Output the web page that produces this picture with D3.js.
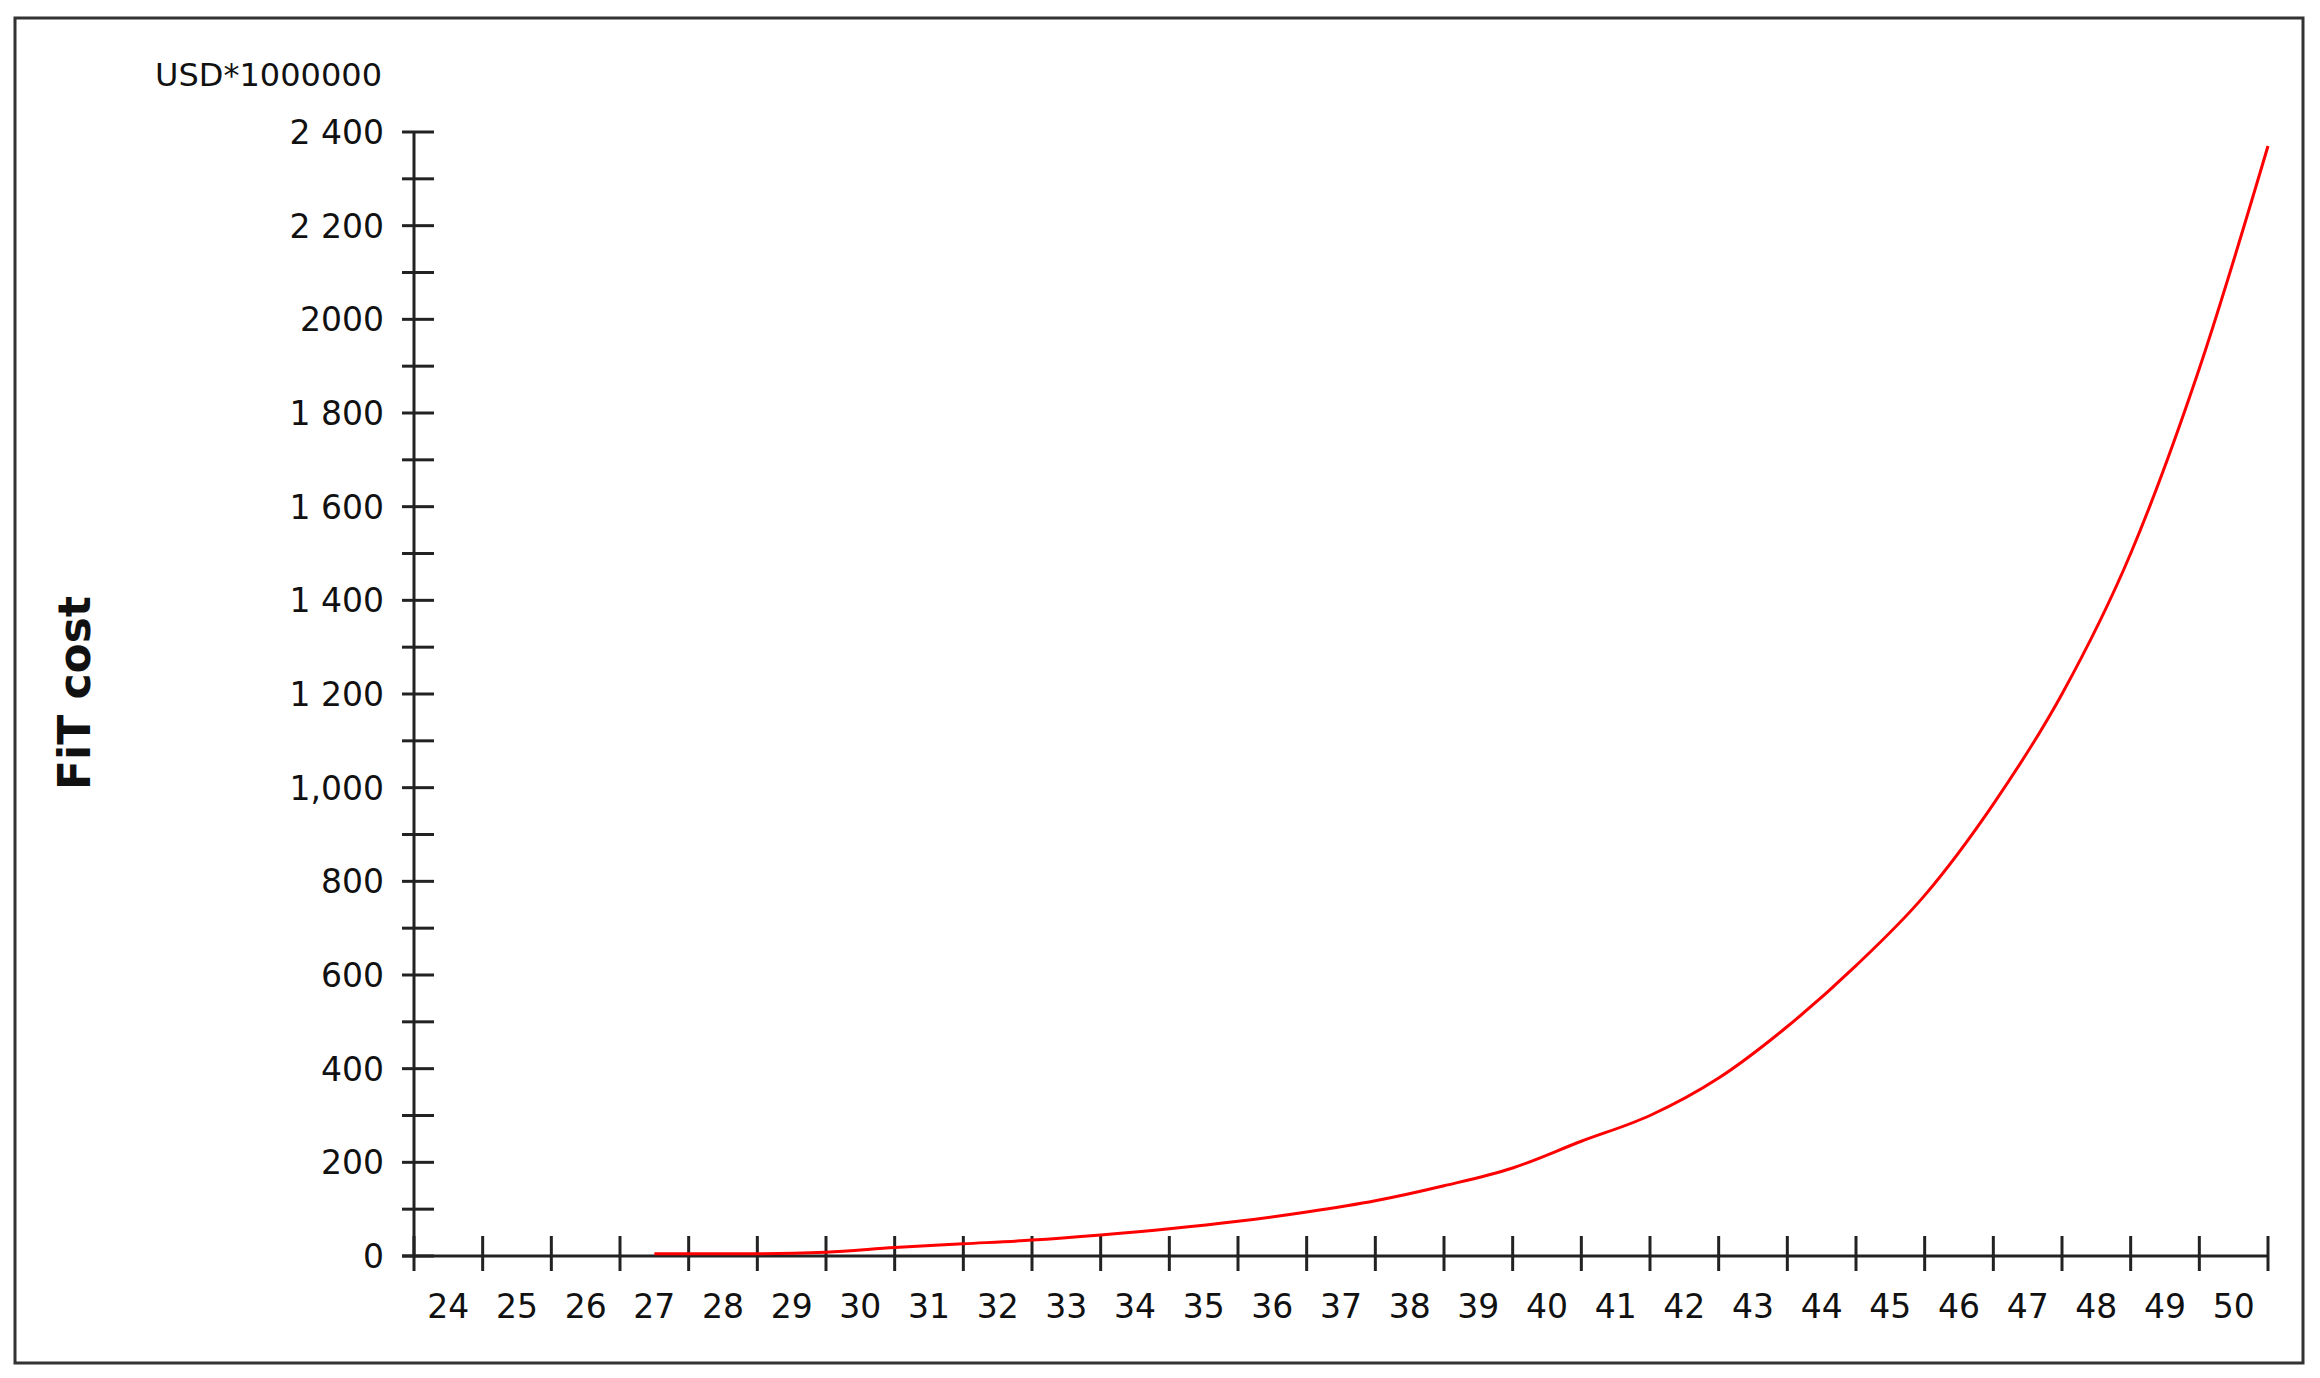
<!DOCTYPE html>
<html><head><meta charset="utf-8">
<script src="https://cdn.jsdelivr.net/npm/d3@7"></script>
<style>body{margin:0;background:#fff}text{font-family:"DejaVu Sans","Liberation Sans",Arial,sans-serif}</style>
</head><body>
<svg id="chart" width="2320" height="1378"></svg>
<script>
const years = d3.range(24, 51);
const yTickValues = [0,200,400,600,800,1000,1200,1400,1600,1800,2000,2200,2400];
const yTickLabels = ["0","200","400","600","800","1,000","1 200","1 400","1 600","1 800","2000","2 200","2 400"];
const curveX = [27.5,28,29,30,31,32,33,34,35,36,37,38,39,40,41,42,43,44,45,46,47,48,49,50,51];
const curveY = [5,5,5,8,18,26,34,45,58,74,94,118,150,188,245,300,380,490,620,770,965,1200,1500,1895,2370];

const svg = d3.select("#chart");
svg.append("rect").attr("x",15).attr("y",18).attr("width",2288).attr("height",1345)
  .attr("fill","none").attr("stroke","#333").attr("stroke-width",3);

const x = d3.scaleLinear().domain([24,51]).range([414,2268]);
const y = d3.scaleLinear().domain([0,2400]).range([1256,132]);

const g = svg.append("g");
// y axis
g.append("line").attr("x1",x(24)).attr("x2",x(24)).attr("y1",y(2400)).attr("y2",y(0))
  .attr("stroke","#222").attr("stroke-width",3);
g.selectAll(".yt").data(d3.range(0,2401,100)).join("line")
  .attr("x1",x(24)-12).attr("x2",x(24)+20).attr("y1",d=>y(d)).attr("y2",d=>y(d))
  .attr("stroke","#222").attr("stroke-width",3);
g.selectAll(".yl").data(yTickValues).join("text")
  .attr("x",x(24)-30).attr("y",(d)=>y(d)+12).attr("text-anchor","end")
  .attr("font-size",33).attr("fill","#111").text((d,i)=>yTickLabels[i]);
// x axis
g.append("line").attr("x1",x(24)-12).attr("x2",x(51)).attr("y1",y(0)).attr("y2",y(0))
  .attr("stroke","#222").attr("stroke-width",3);
g.selectAll(".xt").data(d3.range(24,52)).join("line")
  .attr("x1",d=>x(d)).attr("x2",d=>x(d)).attr("y1",y(0)-20).attr("y2",y(0)+15)
  .attr("stroke","#222").attr("stroke-width",3);
g.selectAll(".xl").data(years).join("text")
  .attr("x",d=>x(d+0.5)).attr("y",y(0)+62).attr("text-anchor","middle")
  .attr("font-size",33).attr("fill","#111").text(d=>d);

// curve
g.append("path").datum(curveX.map((v,i)=>[v,curveY[i]]))
  .attr("d",d3.line().x(d=>x(d[0])).y(d=>y(d[1])).curve(d3.curveMonotoneX))
  .attr("fill","none").attr("stroke","#f00").attr("stroke-width",3);

svg.append("text").attr("x",382).attr("y",86).attr("text-anchor","end")
  .attr("font-size",32).attr("fill","#111").text("USD*1000000");
svg.append("text").attr("transform","translate(90,693) rotate(-90)").attr("text-anchor","middle")
  .attr("font-size",44).attr("font-weight","bold").attr("fill","#111").text("FiT cost");
</script>
</body></html>
